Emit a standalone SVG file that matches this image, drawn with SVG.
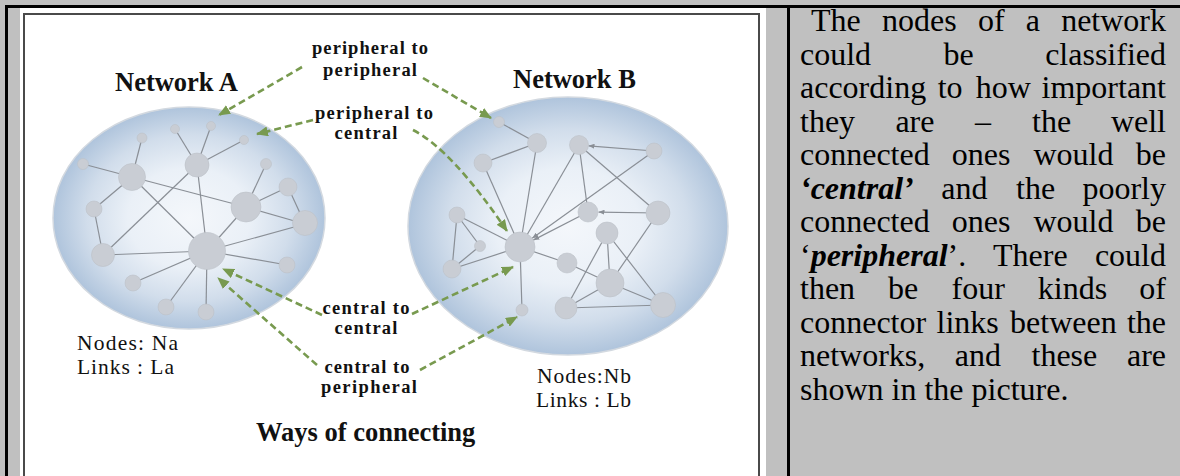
<svg xmlns="http://www.w3.org/2000/svg" width="1180" height="476" viewBox="0 0 1180 476">
<defs>
<radialGradient id="bubble" cx="0.5" cy="0.5" r="0.5">
<stop offset="0" stop-color="#f4f7fb"/>
<stop offset="0.45" stop-color="#eaf0f7"/>
<stop offset="0.75" stop-color="#d1ddeb"/>
<stop offset="1" stop-color="#afc4dc"/>
</radialGradient>
<marker id="ga" markerUnits="userSpaceOnUse" markerWidth="12" markerHeight="10" refX="11" refY="5" orient="auto">
<path d="M0,0 L12,5 L0,10 z" fill="#789a4f"/>
</marker>
<marker id="ta" markerUnits="userSpaceOnUse" markerWidth="6" markerHeight="5" refX="6" refY="2.5" orient="auto">
<path d="M0,0 L6,2.5 L0,5 z" fill="#8a8f96"/>
</marker>
</defs>
<style>
.lbl{font-family:"Liberation Serif","Times New Roman",serif;font-weight:bold;font-size:18.5px;fill:#111;text-anchor:middle}
.title{font-family:"Liberation Serif","Times New Roman",serif;font-weight:bold;font-size:26.5px;fill:#111}
.info{font-family:"Liberation Serif","Times New Roman",serif;font-size:21.5px;fill:#111}
.p{font-family:"Liberation Serif","Times New Roman",serif;font-size:32px;fill:#000}
.pe{font-family:"Liberation Serif","Times New Roman",serif;font-size:32px;fill:#000;text-anchor:end}
.bi{font-weight:bold;font-style:italic}
.edge{stroke:#8a8f96;stroke-width:1.2;fill:none}
.nd{fill:#c9cdd4;stroke:#bcc1c8;stroke-width:0.6}
.bub{fill:url(#bubble);stroke:#d3d9e0;stroke-width:1.5}
.conn{stroke:#789a4f;stroke-width:2.6;stroke-dasharray:7 4;fill:none;marker-end:url(#ga)}
</style>
<rect x="0" y="0" width="1180" height="476" fill="#c0c0c0"/>
<rect x="20" y="8" width="746" height="470" fill="#ffffff"/>
<rect x="24" y="14" width="735" height="480" fill="none" stroke="#4a4a4a" stroke-width="2"/>
<rect x="5" y="5" width="1175" height="3" fill="#000"/>
<rect x="5" y="5" width="3" height="471" fill="#000"/>
<rect x="787" y="5" width="3" height="471" fill="#000"/>

<g id="network-a">
<ellipse class="bub" cx="189" cy="218" rx="136" ry="111"/>
<g class="edge">
<line x1="142" y1="138" x2="132" y2="177"/>
<line x1="83" y1="164" x2="132" y2="177"/>
<line x1="132" y1="177" x2="94" y2="209"/>
<line x1="94" y1="209" x2="103" y2="255"/>
<line x1="132" y1="177" x2="246" y2="207"/>
<line x1="132" y1="177" x2="207" y2="251"/>
<line x1="175" y1="129" x2="197" y2="165"/>
<line x1="211" y1="126" x2="197" y2="165"/>
<line x1="244" y1="140" x2="197" y2="165"/>
<line x1="197" y1="165" x2="103" y2="255"/>
<line x1="197" y1="165" x2="207" y2="251"/>
<line x1="266" y1="164" x2="246" y2="207"/>
<line x1="288" y1="187" x2="246" y2="207"/>
<line x1="288" y1="187" x2="305" y2="224"/>
<line x1="246" y1="207" x2="305" y2="224"/>
<line x1="246" y1="207" x2="207" y2="251"/>
<line x1="305" y1="224" x2="207" y2="251"/>
<line x1="103" y1="255" x2="207" y2="251"/>
<line x1="207" y1="251" x2="287" y2="265"/>
<line x1="207" y1="251" x2="133" y2="283"/>
<line x1="207" y1="251" x2="166" y2="307"/>
<line x1="207" y1="251" x2="206" y2="312"/>
</g>
<g class="nd">
<circle cx="175" cy="129" r="4.5"/>
<circle cx="211" cy="126" r="4.5"/>
<circle cx="244" cy="140" r="4.5"/>
<circle cx="142" cy="138" r="5"/>
<circle cx="83" cy="164" r="5.5"/>
<circle cx="132" cy="177" r="13.5"/>
<circle cx="197" cy="165" r="12"/>
<circle cx="266" cy="164" r="5.5"/>
<circle cx="288" cy="187" r="9"/>
<circle cx="246" cy="207" r="15"/>
<circle cx="305" cy="223" r="12.5"/>
<circle cx="94" cy="209" r="8"/>
<circle cx="103" cy="255" r="11.5"/>
<circle cx="207" cy="251" r="18.5"/>
<circle cx="287" cy="265" r="8"/>
<circle cx="133" cy="283" r="8"/>
<circle cx="166" cy="307" r="8"/>
<circle cx="206" cy="312" r="8"/>
</g>
<text class="title" x="115" y="91">Network A</text>
<text class="info" x="77" y="350" textLength="101" lengthAdjust="spacing">Nodes: Na</text>
<text class="info" x="77" y="374" textLength="97" lengthAdjust="spacing">Links : La</text>
</g>

<g id="network-b">
<ellipse class="bub" cx="568" cy="226" rx="160" ry="129"/>
<g class="edge">
<line x1="499" y1="122" x2="537" y2="143"/>
<line x1="537" y1="143" x2="483" y2="163"/>
<line x1="537" y1="143" x2="520" y2="247"/>
<line x1="483" y1="163" x2="520" y2="247"/>
<line x1="579" y1="145" x2="520" y2="247"/>
<line x1="579" y1="145" x2="588" y2="212"/>
<line x1="654" y1="151" x2="588.5" y2="145.8" marker-end="url(#ta)"/>
<line x1="579" y1="145" x2="658" y2="213"/>
<line x1="654" y1="151" x2="532.2" y2="238.3" marker-end="url(#ta)"/>
<line x1="588" y1="212" x2="533.3" y2="240.1" marker-end="url(#ta)"/>
<line x1="658" y1="213" x2="598.5" y2="212.1" marker-end="url(#ta)"/>
<line x1="457" y1="215" x2="520" y2="247"/>
<line x1="457" y1="215" x2="480" y2="246"/>
<line x1="457" y1="215" x2="452" y2="269"/>
<line x1="480" y1="246" x2="452" y2="269"/>
<line x1="452" y1="269" x2="520" y2="247"/>
<line x1="520" y1="247" x2="567" y2="263"/>
<line x1="567" y1="263" x2="610" y2="283"/>
<line x1="520" y1="247" x2="522" y2="310"/>
<line x1="607" y1="233" x2="610" y2="283"/>
<line x1="607" y1="233" x2="566" y2="308"/>
<line x1="607" y1="233" x2="663" y2="305"/>
<line x1="658" y1="213" x2="610" y2="283"/>
<line x1="610" y1="283" x2="566" y2="308"/>
<line x1="610" y1="283" x2="663" y2="305"/>
<line x1="566" y1="308" x2="663" y2="305"/>
</g>
<g class="nd">
<circle cx="499" cy="122" r="5.5"/>
<circle cx="537" cy="143" r="9.5"/>
<circle cx="579" cy="145" r="9.5"/>
<circle cx="654" cy="151" r="8"/>
<circle cx="483" cy="163" r="9"/>
<circle cx="457" cy="215" r="8"/>
<circle cx="588" cy="212" r="10"/>
<circle cx="658" cy="213" r="12"/>
<circle cx="607" cy="233" r="11"/>
<circle cx="480" cy="246" r="5.5"/>
<circle cx="520" cy="247" r="15"/>
<circle cx="452" cy="269" r="9"/>
<circle cx="567" cy="263" r="10"/>
<circle cx="610" cy="283" r="14"/>
<circle cx="522" cy="310" r="6"/>
<circle cx="566" cy="308" r="11"/>
<circle cx="663" cy="305" r="12.5"/>
</g>
<text class="title" x="513" y="88">Network B</text>
<text class="info" x="537" y="383" textLength="94" lengthAdjust="spacing">Nodes:Nb</text>
<text class="info" x="536" y="407" textLength="95" lengthAdjust="spacing">Links : Lb</text>
</g>

<g id="connectors">
<path class="conn" d="M302,67 L219,115"/>
<path class="conn" d="M423,78 L491,118"/>
<path class="conn" d="M313,120 L257,134"/>
<path class="conn" d="M413,130 Q452,150 507,231"/>
<path class="conn" d="M322,315 L223,269"/>
<path class="conn" d="M412,314 L513,267"/>
<path class="conn" d="M317,365 L218,278"/>
<path class="conn" d="M420,370 L517,317"/>
</g>

<g id="labels">
<text class="lbl" x="370" y="54" textLength="116" lengthAdjust="spacing">peripheral to</text>
<text class="lbl" x="370" y="76" textLength="94" lengthAdjust="spacing">peripheral</text>
<text class="lbl" x="374" y="119" textLength="118" lengthAdjust="spacing">peripheral to</text>
<text class="lbl" x="366" y="139" textLength="63" lengthAdjust="spacing">central</text>
<text class="lbl" x="366" y="314" textLength="87" lengthAdjust="spacing">central to</text>
<text class="lbl" x="366" y="334" textLength="63" lengthAdjust="spacing">central</text>
<text class="lbl" x="367" y="373" textLength="85" lengthAdjust="spacing">central to</text>
<text class="lbl" x="369" y="393" textLength="96" lengthAdjust="spacing">peripheral</text>
<text class="title" x="256" y="441">Ways of connecting</text>
</g>

<g id="text-panel">
<text class="p" y="31"><tspan x="811">The</tspan><tspan x="882">nodes</tspan><tspan x="977.9">of</tspan><tspan x="1025.7">a</tspan></text>
<text class="pe" x="1166" y="31">network</text>
<text class="p" y="64.5"><tspan x="800">could</tspan><tspan x="943.6">be</tspan></text>
<text class="pe" x="1166" y="64.5">classified</text>
<text class="p" y="98"><tspan x="800">according</tspan><tspan x="937.7">to</tspan><tspan x="975.8">how</tspan></text>
<text class="pe" x="1166" y="98">important</text>
<text class="p" y="131.5"><tspan x="800">they</tspan><tspan x="895.4">are</tspan><tspan x="975.1">–</tspan><tspan x="1032.1">the</tspan></text>
<text class="pe" x="1166" y="131.5">well</text>
<text class="p" y="165"><tspan x="800">connected</tspan><tspan x="951.8">ones</tspan><tspan x="1033.5">would</tspan></text>
<text class="pe" x="1166" y="165">be</text>
<text class="p" y="198.5"><tspan x="800" class="bi">‘central’</tspan><tspan x="941.3">and</tspan><tspan x="1016.1">the</tspan></text>
<text class="pe" x="1166" y="198.5">poorly</text>
<text class="p" y="232"><tspan x="800">connected</tspan><tspan x="951.8">ones</tspan><tspan x="1033.5">would</tspan></text>
<text class="pe" x="1166" y="232">be</text>
<text class="p" y="265.5"><tspan x="800">‘</tspan><tspan class="bi">peripheral</tspan><tspan>’.</tspan><tspan x="993">There</tspan></text>
<text class="pe" x="1166" y="265.5">could</text>
<text class="p" y="299"><tspan x="800">then</tspan><tspan x="888">be</tspan><tspan x="951.5">four</tspan><tspan x="1037.8">kinds</tspan></text>
<text class="pe" x="1166" y="299">of</text>
<text class="p" y="332.5"><tspan x="800">connector</tspan><tspan x="936.5">links</tspan><tspan x="1010.1">between</tspan></text>
<text class="pe" x="1166" y="332.5">the</text>
<text class="p" y="366"><tspan x="800">networks,</tspan><tspan x="954.7">and</tspan><tspan x="1031.5">these</tspan></text>
<text class="pe" x="1166" y="366">are</text>
<text class="p" x="800" y="399.5">shown in the picture.</text>
</g>
</svg>
